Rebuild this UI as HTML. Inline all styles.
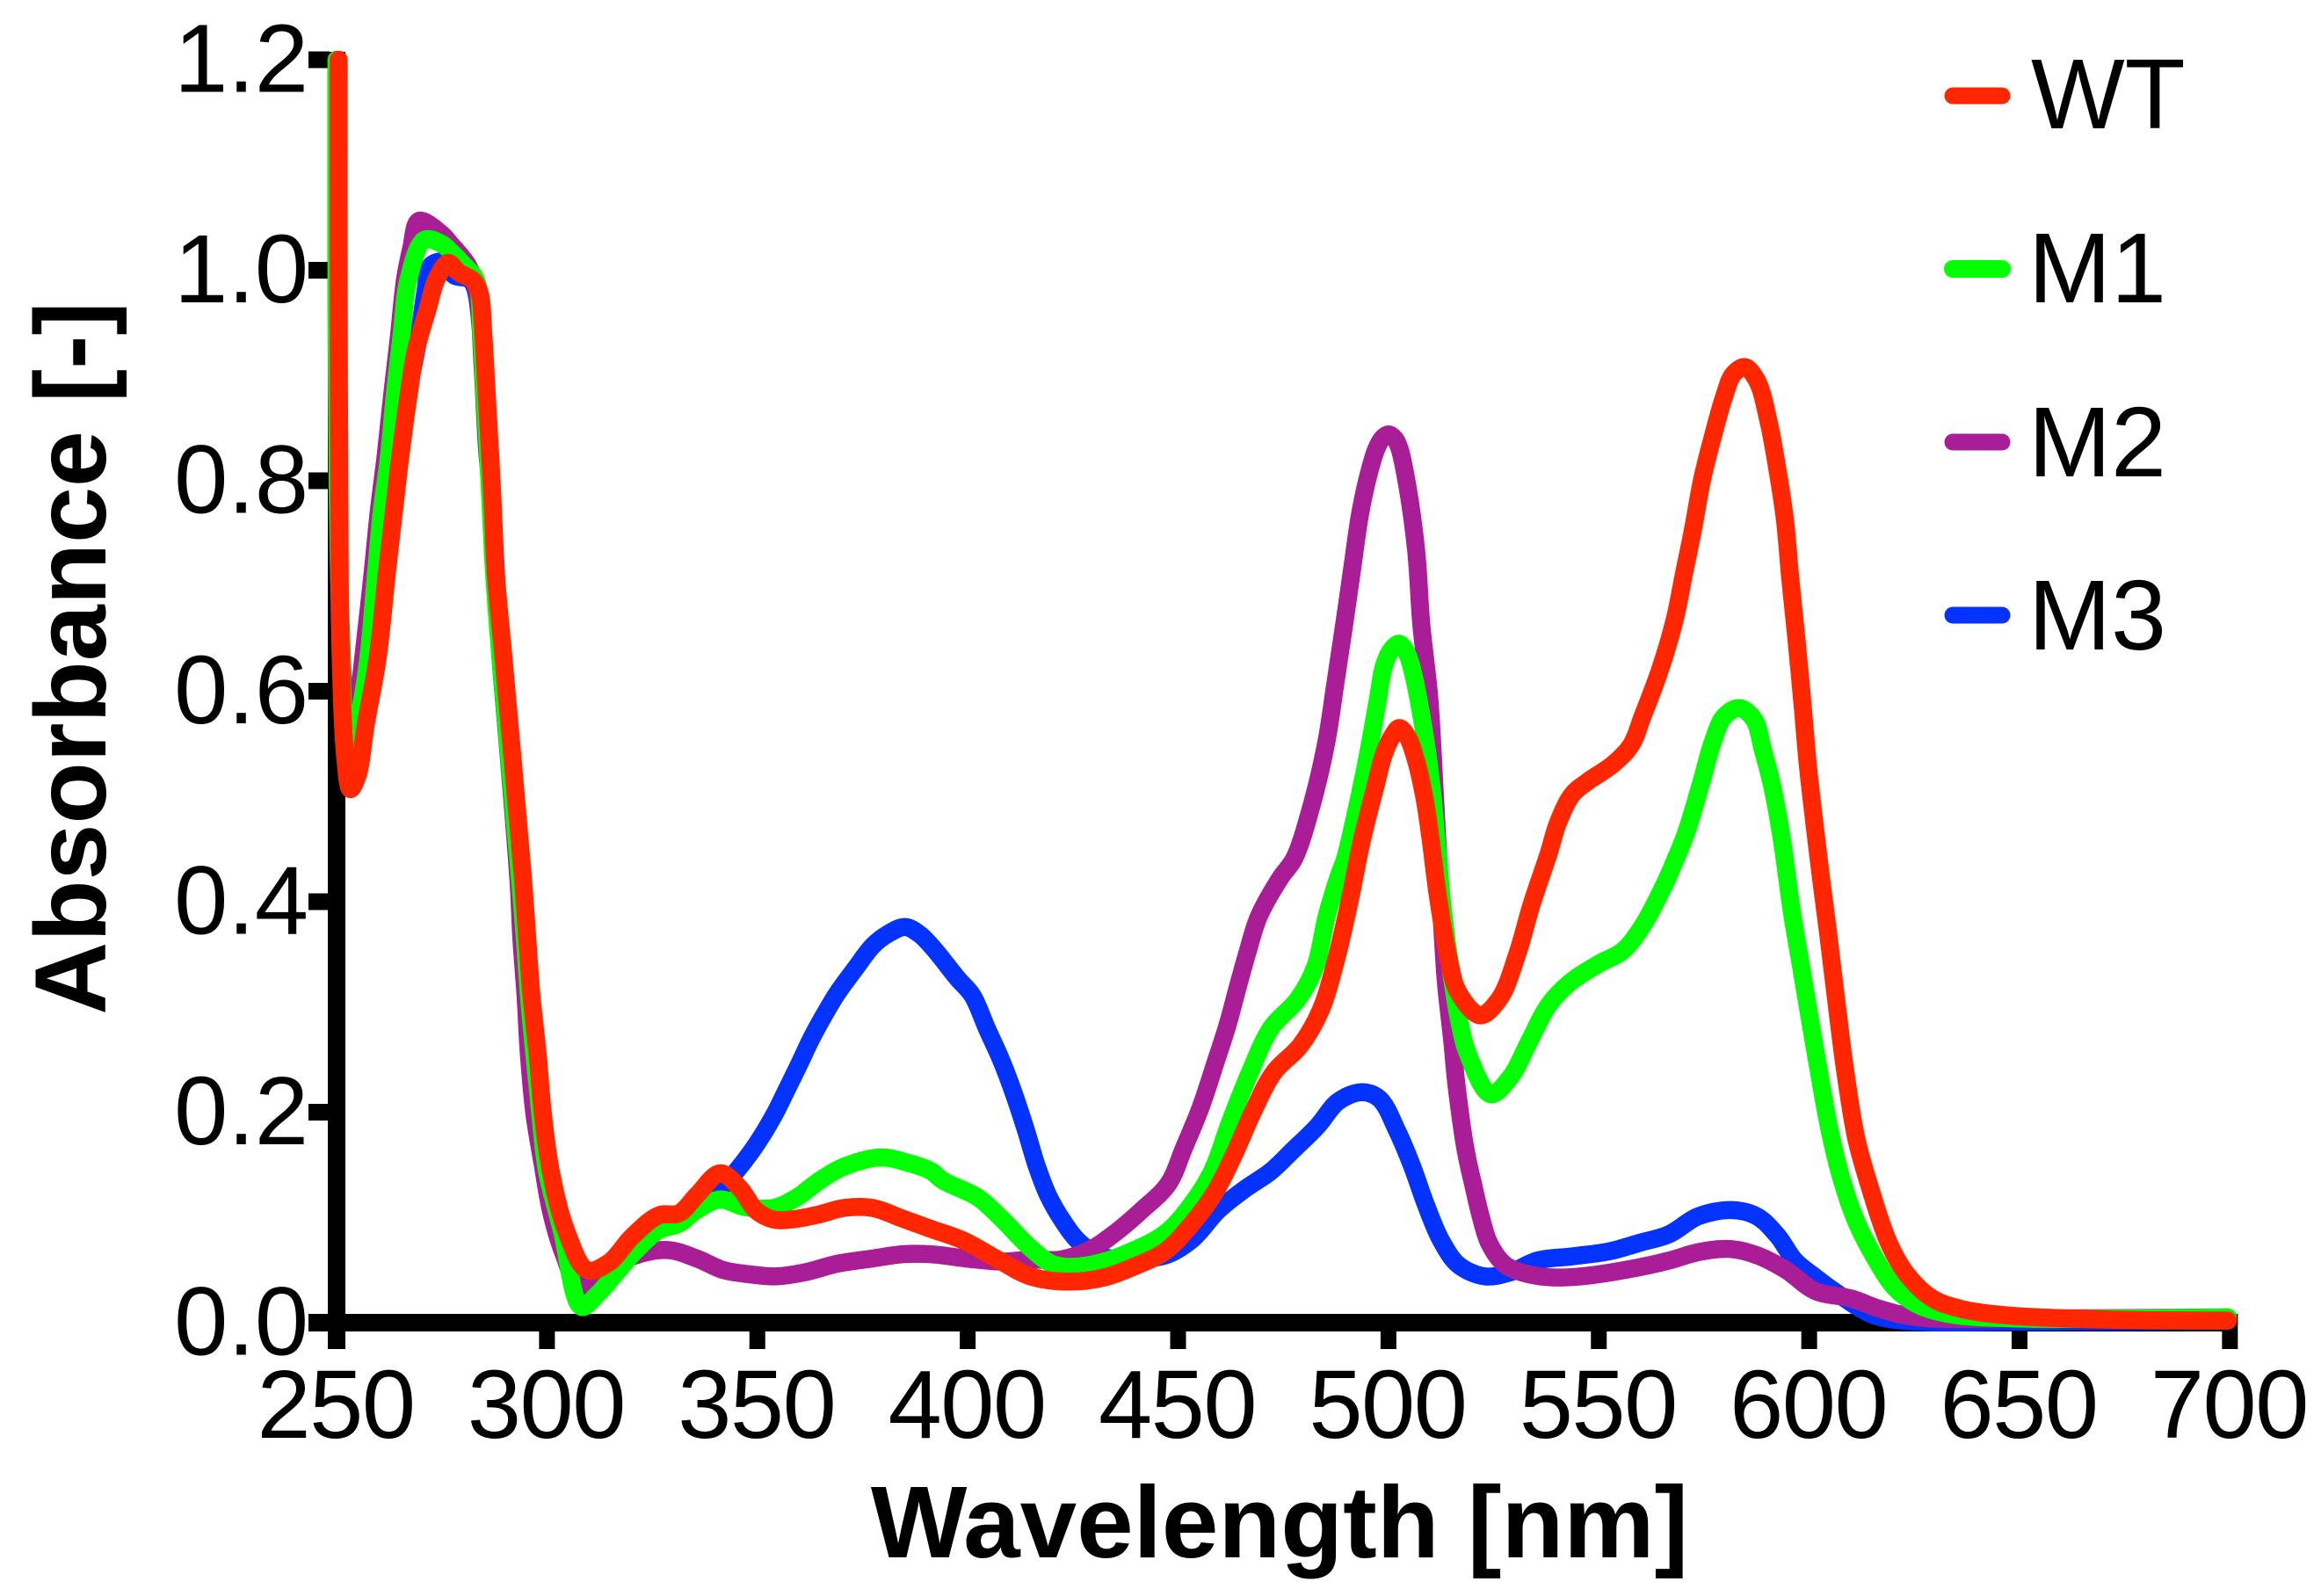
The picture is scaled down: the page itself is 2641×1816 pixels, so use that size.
<!DOCTYPE html>
<html lang="en">
<head>
<meta charset="utf-8">
<title>Absorbance spectra</title>
<style>
html,body{margin:0;padding:0;background:#fff;}
svg{display:block;}
text{font-family:"Liberation Sans",Arial,sans-serif;fill:#000;}
</style>
</head>
<body>
<svg id="chart" xmlns="http://www.w3.org/2000/svg" width="2641" height="1816" viewBox="0 0 2641 1816">
<rect x="0" y="0" width="2641" height="1816" fill="#ffffff"/>
<g id="axes"></g>
<g id="series"></g>
<text x="1456" y="1772" font-size="116" font-weight="700" text-anchor="middle">Wavelength [nm]</text>
<text x="120" y="749" font-size="115" font-weight="700" text-anchor="middle" transform="rotate(-90 120 749)">Absorbance [-]</text>
<g>
<g>
<line x1="2222" y1="109" x2="2278" y2="109" stroke="#ff2600" stroke-width="19" stroke-linecap="round"/>
<text x="2311" y="146" font-size="113">WT</text>
</g>
<g>
<line x1="2222" y1="306" x2="2278" y2="306" stroke="#00ff00" stroke-width="20" stroke-linecap="round"/>
<text x="2308" y="344" font-size="113">M1</text>
</g>
<g>
<line x1="2222" y1="503" x2="2278" y2="503" stroke="#a91d96" stroke-width="19" stroke-linecap="round"/>
<text x="2308" y="542" font-size="113">M2</text>
</g>
<g>
<line x1="2222" y1="700" x2="2278" y2="700" stroke="#0433ff" stroke-width="19" stroke-linecap="round"/>
<text x="2308" y="739" font-size="113">M3</text>
</g>
</g>
</svg>
<script>
const xTickLabels = ['250','300','350','400','450','500','550','600','650','700'];
const yTickLabels = ['0.0','0.2','0.4','0.6','0.8','1.0','1.2'];

const wtNm = [250.5,250.5,250.7,251,252,253.3,255,257,259.7,262,263.6,265.2,267.1,268.8,271.7,273.8,276.5,279,282.5,284,284.9,285.7,286.5,287.2,287.8,289.7,294.3,295.3,296.3,297.8,299,300.9,304.5,309.5,314.7,320.3,326.6,331.4,335.6,341.2,346,349.6,353.8,358,364.8,370.5,377.4,384.4,391.3,399,408,414.9,424,432.5,440,447,453.3,458.8,463,468,472.8,479,483.8,487.5,491,493.5,496.8,499,501,502.6,504.5,506.5,508.5,510,511.8,514.4,516.6,521.8,526.4,530.6,534,538.1,540.3,543.7,547.3,553.5,557.7,560.4,564.6,568.1,570.2,572.3,574.6,577.1,579.8,581.9,584.7,587.6,590.3,592.4,594.2,595.5,597,598.4,599.7,601.5,602.8,604.5,606.4,608.5,611.2,614.7,618.9,623,629.3,636.2,646.7,670,699.5];
const wtAbs = [1.2,1.0,0.74,0.63,0.54,0.507,0.52,0.57,0.63,0.714,0.77,0.825,0.881,0.923,0.964,0.992,1.007,0.998,0.99,0.978,0.937,0.881,0.825,0.77,0.714,0.63,0.422,0.366,0.311,0.255,0.199,0.144,0.088,0.05,0.057,0.082,0.102,0.104,0.121,0.142,0.127,0.107,0.098,0.098,0.103,0.109,0.109,0.099,0.089,0.078,0.058,0.044,0.039,0.043,0.054,0.068,0.094,0.124,0.157,0.202,0.238,0.263,0.296,0.344,0.405,0.455,0.508,0.541,0.558,0.565,0.557,0.535,0.5,0.46,0.404,0.344,0.314,0.292,0.308,0.35,0.397,0.446,0.475,0.502,0.514,0.531,0.549,0.576,0.621,0.669,0.711,0.752,0.802,0.842,0.88,0.901,0.908,0.895,0.857,0.812,0.764,0.707,0.648,0.588,0.529,0.466,0.423,0.37,0.307,0.241,0.175,0.125,0.076,0.047,0.023,0.013,0.007,0.003,0.002];

const m1Nm = [250,250,250.3,251,252,253.5,255,257.5,259.4,260.7,262.5,263.8,265.4,267.1,270.9,275,277.3,280,283.2,284.4,285.2,286,286.7,287.4,289,293.6,294.7,295.7,297,298.4,300,303.5,308.2,312,316.2,321,326.6,331.4,335.6,341.2,346.9,353.8,359.4,364.8,370.5,379.4,385.7,391.3,394.1,402.4,408,414.9,419.9,424,430.4,437.3,447,453.3,458.1,462.3,467.1,472.1,478.4,482.6,485.3,488,489.7,492.2,495.1,497.4,499,501,502.6,504.5,505.8,508.3,510.2,511.5,513,515,516.9,518.9,524.3,529.1,533.3,538.1,543.1,550,555.6,560.4,565.2,568.1,570.7,574.4,577.1,579.8,583.4,586.9,589,591.2,593.4,595.9,598,600.1,602.2,604.9,607.8,611.2,615.4,620.4,625.8,633.5,650,699.5];
const m1Abs = [1.2,1.0,0.8,0.65,0.57,0.55,0.57,0.63,0.714,0.77,0.825,0.881,0.937,0.992,1.029,1.025,1.017,1.006,0.99,0.94,0.881,0.825,0.77,0.714,0.63,0.422,0.366,0.311,0.255,0.199,0.144,0.088,0.015,0.027,0.046,0.068,0.088,0.094,0.107,0.117,0.11,0.109,0.119,0.135,0.148,0.157,0.152,0.144,0.135,0.119,0.099,0.071,0.056,0.053,0.056,0.065,0.085,0.113,0.144,0.19,0.238,0.28,0.307,0.338,0.386,0.422,0.441,0.483,0.539,0.59,0.625,0.641,0.645,0.635,0.618,0.566,0.511,0.455,0.39,0.33,0.285,0.255,0.217,0.234,0.266,0.302,0.323,0.341,0.353,0.377,0.413,0.439,0.465,0.514,0.552,0.576,0.584,0.573,0.544,0.51,0.462,0.39,0.34,0.29,0.241,0.182,0.135,0.096,0.063,0.033,0.017,0.008,0.004,0.005];

const m2Nm = [250,250,250.2,251,252,253.5,255,256.7,258.6,260,261.7,263.2,264.8,266.3,267.7,269.6,274.8,277.1,281.3,283.4,284.7,285.7,286.5,287.2,288.2,288.8,293.2,293.9,294.9,295.7,297,299,301,304,308.2,314.7,320.3,328.7,335.6,341.9,348.1,354.4,361.5,369,377.4,384.4,391.3,399.7,408,414.9,422,428.9,434.6,441.4,447.7,451.3,455.4,458.8,461.7,464,466.5,469.2,474.2,477.6,481.7,485.3,487.4,489.5,491.5,493.2,495.1,497.2,498.7,500.1,501.5,502.6,504.5,506.6,507.8,509.7,511,512,513,513.7,515.1,516.2,518.3,520.2,522,524,527.7,533.3,538.9,545.8,556.2,566.7,573.6,581.3,587.6,594.5,601.5,610,616.8,625.8,650,699.5];
const m2Abs = [1.2,1.0,0.8,0.66,0.59,0.565,0.59,0.645,0.714,0.77,0.825,0.881,0.937,0.992,1.02,1.047,1.035,1.025,1.004,0.979,0.909,0.833,0.797,0.753,0.678,0.641,0.422,0.366,0.311,0.255,0.199,0.15,0.105,0.065,0.031,0.05,0.063,0.069,0.061,0.05,0.046,0.044,0.048,0.056,0.061,0.065,0.065,0.061,0.058,0.06,0.06,0.069,0.084,0.107,0.132,0.165,0.205,0.246,0.282,0.316,0.352,0.386,0.422,0.441,0.491,0.553,0.608,0.664,0.72,0.767,0.803,0.831,0.841,0.844,0.84,0.831,0.795,0.733,0.664,0.594,0.505,0.43,0.362,0.321,0.27,0.225,0.165,0.13,0.1,0.075,0.055,0.046,0.043,0.044,0.05,0.059,0.067,0.07,0.064,0.05,0.03,0.023,0.013,0.005,0.004,0.005];

const m3Nm = [250,250,250.3,251,252,253.5,255,257,258.8,262.3,265,267,269,270,271.1,272.3,275,278,282,284.4,285.5,286.5,287.5,289,293.8,295,296,297.5,299,300.5,304,307.8,314.7,320.3,326.6,332,341.2,345,348.1,351,354.2,357.3,360,362.7,365.7,369,373.2,377.4,380.9,385.1,388.6,392,397.6,401.1,404.5,408,411.2,413.9,416.4,419.1,422.7,426.4,431.6,440,447,453.3,459.6,465.9,472.1,477.6,483.2,488,493.6,497.8,502,505.5,508.9,512.4,516.6,522.9,529.1,535.4,543.7,552.7,559.8,566.7,573.6,581.6,587.6,592.4,596.6,601.5,607,615.4,625.8,650,699.5];
const m3Abs = [1.2,1.0,0.78,0.63,0.55,0.525,0.55,0.6,0.658,0.77,0.84,0.885,0.925,0.95,0.979,1.004,1.008,0.995,0.99,0.94,0.881,0.797,0.74,0.63,0.422,0.366,0.311,0.255,0.199,0.144,0.09,0.042,0.054,0.07,0.09,0.102,0.127,0.144,0.16,0.177,0.199,0.224,0.246,0.269,0.291,0.313,0.336,0.358,0.369,0.376,0.369,0.355,0.327,0.311,0.28,0.249,0.215,0.182,0.149,0.121,0.096,0.077,0.063,0.061,0.064,0.079,0.107,0.127,0.144,0.165,0.187,0.21,0.219,0.213,0.183,0.15,0.112,0.079,0.055,0.044,0.048,0.059,0.063,0.068,0.076,0.084,0.101,0.107,0.101,0.083,0.059,0.043,0.027,0.007,0.001,0.001,0.002];

const xOrigin = 383, xPerNm = 4.7875, yOrigin = 1505, yPerUnit = 1197.5;
function xScale(nm){ return xOrigin + (nm - 250) * xPerNm; }
function yScale(a){ return yOrigin - a * yPerUnit; }

const NS = 'http://www.w3.org/2000/svg';
const axes = document.getElementById('axes');
const seriesLayer = document.getElementById('series');

function rect(x, y, w, h){
  const r = document.createElementNS(NS, 'rect');
  r.setAttribute('x', x);
  r.setAttribute('y', y);
  r.setAttribute('width', w);
  r.setAttribute('height', h);
  r.setAttribute('fill', '#000');
  return r;
}

const yAxisLine = rect(xOrigin - 10, yScale(1.2) - 9, 20, 1535 - (yScale(1.2) - 9));


axes.appendChild(yAxisLine);

const xAxisLine = rect(351, yOrigin - 10, xScale(700) + 9 - 351, 20);


axes.appendChild(xAxisLine);

xTickLabels.forEach(function(label){
  const nm = parseFloat(label);
  const tx = xScale(nm);
  const tick = rect(tx - 9, yOrigin + 10, 18, 20);
  
  
  axes.appendChild(tick);
  const t = document.createElementNS(NS, 'text');
  
  
  t.setAttribute('x', tx - 1);
  t.setAttribute('y', 1636);
  t.setAttribute('font-size', 110);
  t.setAttribute('letter-spacing', '-1.5');
  t.setAttribute('text-anchor', 'middle');
  t.textContent = label;
  axes.appendChild(t);
});

yTickLabels.forEach(function(label){
  const v = parseFloat(label);
  const ty = yScale(v);
  const tick = rect(351, ty - 9.5, 24, 19);
  
  
  axes.appendChild(tick);
  const t = document.createElementNS(NS, 'text');
  
  
  t.setAttribute('x', 351);
  t.setAttribute('y', ty + 36.5);
  t.setAttribute('font-size', 110);
  t.setAttribute('text-anchor', 'end');
  t.textContent = label;
  axes.appendChild(t);
});

function smoothPath(nm, abs){
  const pts = nm.map(function(n, i){ return [xScale(n), yScale(abs[i])]; });
  let d = 'M' + pts[0][0].toFixed(1) + ' ' + pts[0][1].toFixed(1);
  for (let i = 0; i < pts.length - 1; i++){
    const p0 = pts[Math.max(i - 1, 0)], p1 = pts[i], p2 = pts[i + 1], p3 = pts[Math.min(i + 2, pts.length - 1)];
    const d1 = Math.pow(Math.hypot(p1[0] - p0[0], p1[1] - p0[1]), 0.5);
    const d2 = Math.pow(Math.hypot(p2[0] - p1[0], p2[1] - p1[1]), 0.5);
    const d3 = Math.pow(Math.hypot(p3[0] - p2[0], p3[1] - p2[1]), 0.5);
    let c1x = p1[0], c1y = p1[1], c2x = p2[0], c2y = p2[1];
    if (d1 > 0){
      const a = 2 * d1 * d1 + 3 * d1 * d2 + d2 * d2, n1 = 3 * d1 * (d1 + d2);
      c1x = (d1 * d1 * p2[0] - d2 * d2 * p0[0] + a * p1[0]) / n1;
      c1y = (d1 * d1 * p2[1] - d2 * d2 * p0[1] + a * p1[1]) / n1;
    }
    if (d3 > 0){
      const b = 2 * d3 * d3 + 3 * d3 * d2 + d2 * d2, n2 = 3 * d3 * (d3 + d2);
      c2x = (d3 * d3 * p1[0] - d2 * d2 * p3[0] + b * p2[0]) / n2;
      c2y = (d3 * d3 * p1[1] - d2 * d2 * p3[1] + b * p2[1]) / n2;
    }
    d += 'C' + c1x.toFixed(1) + ' ' + c1y.toFixed(1) + ' ' + c2x.toFixed(1) + ' ' + c2y.toFixed(1) + ' ' + p2[0].toFixed(1) + ' ' + p2[1].toFixed(1);
  }
  return d;
}

function addLine(name, nm, abs, color){
  const p = document.createElementNS(NS, 'path');
  
  
  p.setAttribute('d', smoothPath(nm, abs));
  p.setAttribute('fill', 'none');
  p.setAttribute('stroke', color);
  p.setAttribute('stroke-width', 20.5);
  p.setAttribute('stroke-linejoin', 'round');
  p.setAttribute('stroke-linecap', 'round');
  seriesLayer.appendChild(p);
}

addLine('series-m3-line', m3Nm, m3Abs, '#0433ff');
addLine('series-m2-line', m2Nm, m2Abs, '#a91d96');
addLine('series-m1-line', m1Nm, m1Abs, '#00ff00');
addLine('series-wt-line', wtNm, wtAbs, '#ff2600');
</script>
</body>
</html>
